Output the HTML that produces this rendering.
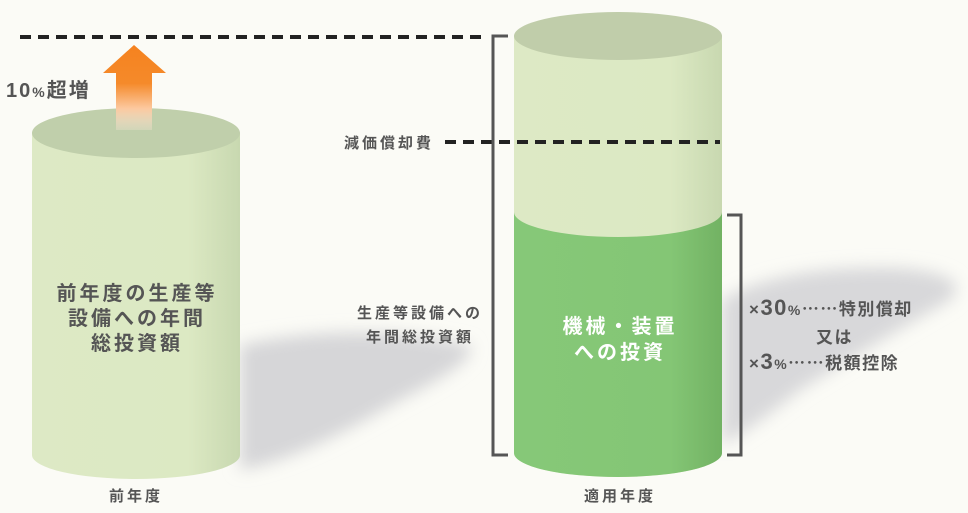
<!DOCTYPE html>
<html><head><meta charset="utf-8"><style>
body{margin:0;background:#fbfbf6;}
svg{display:block;}
text{font-family:"Liberation Sans","Noto Sans CJK JP",sans-serif;font-weight:bold;fill:#555;}
</style></head><body>
<svg width="968" height="513" viewBox="0 0 968 513">
<defs>
<filter id="bl" x="-30%" y="-30%" width="160%" height="160%"><feGaussianBlur stdDeviation="8"/></filter>
<linearGradient id="body" x1="0" x2="1"><stop offset="0" stop-color="#dde9c5"/><stop offset="0.75" stop-color="#dce9c3"/><stop offset="1" stop-color="#c8d8b0"/></linearGradient>
<linearGradient id="gbody" x1="0" x2="1"><stop offset="0" stop-color="#86c878"/><stop offset="0.75" stop-color="#84c675"/><stop offset="1" stop-color="#72b263"/></linearGradient>
<linearGradient id="arr" x1="0" y1="0" x2="0" y2="1"><stop offset="0" stop-color="#f5821f"/><stop offset="0.45" stop-color="#f58a2a"/><stop offset="0.75" stop-color="#fcc9a0"/><stop offset="1" stop-color="#fbe6d6" stop-opacity="0.3"/></linearGradient>
</defs>
<path d="M240 345 Q360 320 470 345 Q480 360 400 400 Q300 460 240 470 Z" fill="#d6d6d8" filter="url(#bl)"/>
<path d="M722 300 Q780 265 900 268 Q975 275 950 300 Q880 340 800 390 Q750 430 722 445 Z" fill="#d8d8da" filter="url(#bl)"/>
<line x1="20" y1="37" x2="488" y2="37" stroke="#222" stroke-width="4" stroke-dasharray="11,7"/>
<path d="M32 133 L32 455 A104 24 0 0 0 240 455 L240 133 Z" fill="url(#body)"/>
<ellipse cx="136" cy="133" rx="104" ry="25" fill="#c0cfab"/>
<path d="M134 45 L166 73 L152 73 L152 130 L116 130 L116 73 L103 73 Z" fill="url(#arr)"/>
<path d="M514 36 L514 453 A104 24 0 0 0 722 453 L722 36 Z" fill="url(#body)"/>
<path d="M514 212 L514 453 A104 24 0 0 0 722 453 L722 212 A104 25 0 0 1 514 212 Z" fill="url(#gbody)"/>
<ellipse cx="618" cy="36" rx="104" ry="24" fill="#c0cdaa"/>
<line x1="445" y1="142" x2="720" y2="142" stroke="#222" stroke-width="4" stroke-dasharray="11,7"/>
<path d="M508 36 L493 36 L493 455 L508 455" fill="none" stroke="#555" stroke-width="3"/>
<path d="M727 215 L741 215 L741 455 L727 455" fill="none" stroke="#555" stroke-width="3"/>
<text x="6" y="97" font-size="20" letter-spacing="2">10<tspan font-size="14">%</tspan>超増</text>
<g font-size="20" text-anchor="middle" letter-spacing="3">
<text x="137" y="300">前年度の生産等</text>
<text x="137" y="325">設備への年間</text>
<text x="137" y="350">総投資額</text>
</g>
<g font-size="15" letter-spacing="3">
<text x="136" y="501" text-anchor="middle">前年度</text>
<text x="620" y="501" text-anchor="middle">適用年度</text>
<text x="344" y="148">減価償却費</text>
<text x="420" y="318" text-anchor="middle">生産等設備への</text>
<text x="420" y="342" text-anchor="middle">年間総投資額</text>
</g>
<g font-size="20" text-anchor="middle" letter-spacing="3">
<text x="620" y="333" style="fill:#fff">機械・装置</text>
<text x="620" y="359" style="fill:#fff">への投資</text>
</g>
<g font-size="17" letter-spacing="1.5">
<text x="749" y="315">×<tspan font-size="22">30</tspan><tspan font-size="14">%</tspan>⋯⋯特別償却</text>
<text x="816" y="343">又は</text>
<text x="749" y="369">×<tspan font-size="22">3</tspan><tspan font-size="14">%</tspan>⋯⋯税額控除</text>
</g>
</svg>
</body></html>
